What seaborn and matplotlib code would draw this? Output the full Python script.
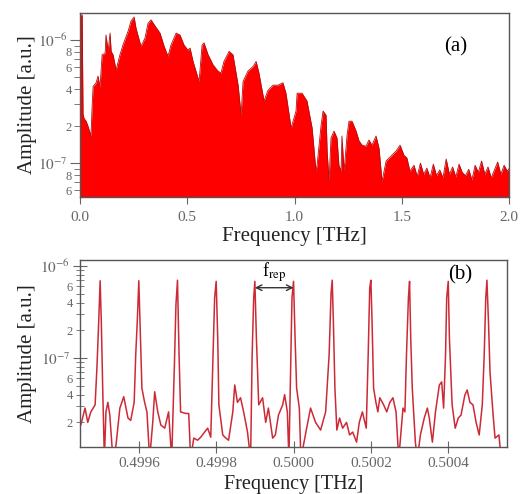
import numpy as np
import pandas as pd
import matplotlib
matplotlib.use("Agg")
import matplotlib.pyplot as plt
import seaborn as sns
from matplotlib.ticker import LogLocator, FuncFormatter, FixedLocator

# ---------------- data: panel (a) broadband spectrum (envelope)
freq_a = [0.000, 0.010, 0.014, 0.019, 0.028, 0.037, 0.051, 0.056, 0.061, 0.075,
          0.084, 0.093, 0.103, 0.117, 0.121, 0.131, 0.140, 0.145, 0.154, 0.168,
          0.186, 0.200, 0.224, 0.238, 0.252, 0.261, 0.284, 0.303, 0.317, 0.331,
          0.350, 0.373, 0.392, 0.410, 0.424, 0.448, 0.466, 0.485, 0.503, 0.513,
          0.527, 0.555, 0.569, 0.578, 0.597, 0.620, 0.643, 0.657, 0.671, 0.695,
          0.713, 0.737, 0.751, 0.760, 0.783, 0.807, 0.821, 0.834, 0.858, 0.876,
          0.900, 0.923, 0.946, 0.960, 0.984, 1.007, 1.012, 1.035, 1.058, 1.082,
          1.100, 1.105, 1.124, 1.133, 1.147, 1.152, 1.161, 1.170, 1.184, 1.198,
          1.207, 1.217, 1.221, 1.231, 1.245, 1.254, 1.268, 1.287, 1.301, 1.315,
          1.333, 1.347, 1.361, 1.380, 1.394, 1.408, 1.427, 1.450, 1.473, 1.492,
          1.510, 1.524, 1.538, 1.557, 1.572, 1.587, 1.602, 1.617, 1.632, 1.647,
          1.662, 1.677, 1.692, 1.707, 1.722, 1.737, 1.752, 1.767, 1.782, 1.797,
          1.812, 1.827, 1.842, 1.857, 1.872, 1.887, 1.902, 1.917, 1.932, 1.947,
          1.962, 1.977, 1.992, 2.000]
amp_a = [1.60e-6, 1.60e-6, 2.5e-7, 2.3e-7, 2.2e-7, 2.0e-7, 1.66e-7, 2.8e-7, 4.2e-7, 4.5e-7,
         5.1e-7, 4.1e-7, 7.6e-7, 7.8e-7, 1.10e-6, 8.1e-7, 1.14e-6, 8.1e-7, 7.6e-7, 5.7e-7,
         7.6e-7, 9.1e-7, 1.18e-6, 1.43e-6, 1.54e-6, 1.25e-6, 8.9e-7, 1.04e-6, 1.37e-6, 1.46e-6,
         1.30e-6, 1.14e-6, 8.9e-7, 7.4e-7, 9.1e-7, 1.14e-6, 1.10e-6, 9.1e-7, 8.3e-7, 8.6e-7,
         6.7e-7, 4.6e-7, 9.1e-7, 9.5e-7, 7.6e-7, 6.3e-7, 5.6e-7, 5.4e-7, 6.7e-7, 8.1e-7,
         7.6e-7, 4.3e-7, 2.45e-7, 4.6e-7, 5.6e-7, 6.1e-7, 6.7e-7, 5.4e-7, 3.2e-7, 3.9e-7,
         4.3e-7, 4.3e-7, 4.5e-7, 3.7e-7, 1.93e-7, 2.65e-7, 3.7e-7, 3.7e-7, 3.2e-7, 1.93e-7,
         8.6e-8, 9.6e-8, 2.04e-7, 2.65e-7, 2.45e-7, 1.25e-7, 7.1e-8, 1.60e-7, 1.82e-7, 1.60e-7,
         9.6e-8, 8.6e-8, 1.66e-7, 8.6e-8, 1.69e-7, 2.19e-7, 2.19e-7, 1.82e-7, 1.51e-7, 1.40e-7,
         1.37e-7, 1.54e-7, 1.40e-7, 1.66e-7, 1.32e-7, 7.1e-8, 1.04e-7, 1.14e-7, 1.25e-7, 1.40e-7,
         1.16e-7, 1.10e-7, 8.6e-8, 9.6e-8, 7.8e-8, 1.0e-7, 8.1e-8, 9.1e-8, 7.6e-8, 9.8e-8,
         7.9e-8, 8.8e-8, 7.6e-8, 1.08e-7, 8.1e-8, 9.3e-8, 7.7e-8, 9.8e-8, 8.4e-8, 7.9e-8,
         8.9e-8, 7.3e-8, 9.6e-8, 8.4e-8, 1.04e-7, 8.1e-8, 9.3e-8, 7.6e-8, 8.8e-8, 1.02e-7,
         8.1e-8, 9.6e-8, 8.6e-8, 9.0e-8]

# ---------------- data: panel (b) zoom on comb lines
freq_b = [0.499450, 0.499461, 0.499468, 0.499476, 0.499487, 0.499492, 0.499496, 0.499500,
          0.499503, 0.499507, 0.499511, 0.499515, 0.499520, 0.499525, 0.499533, 0.499541,
          0.499551, 0.499561, 0.499572, 0.499579, 0.499588, 0.499592, 0.499596, 0.499600,
          0.499603, 0.499608, 0.499615, 0.499621, 0.499628, 0.499636, 0.499641, 0.499649,
          0.499657, 0.499667, 0.499677, 0.499685, 0.499692, 0.499696, 0.499700, 0.499704,
          0.499708, 0.499721, 0.499729, 0.499734, 0.499742, 0.499752, 0.499760, 0.499768,
          0.499778, 0.499786, 0.499792, 0.499796, 0.499800, 0.499804, 0.499807, 0.499817,
          0.499825, 0.499832, 0.499843, 0.499848, 0.499855, 0.499863, 0.499871, 0.499881,
          0.499889, 0.499893, 0.499897, 0.499900, 0.499904, 0.499910, 0.499920, 0.499928,
          0.499935, 0.499946, 0.499953, 0.499961, 0.499972, 0.499977, 0.499984, 0.499988,
          0.499996, 0.500000, 0.500004, 0.500008, 0.500015, 0.500019, 0.500032, 0.500044,
          0.500057, 0.500070, 0.500083, 0.500092, 0.500097, 0.500100, 0.500103, 0.500107,
          0.500112, 0.500119, 0.500127, 0.500137, 0.500145, 0.500153, 0.500163, 0.500170,
          0.500178, 0.500188, 0.500193, 0.500197, 0.500200, 0.500203, 0.500207, 0.500213,
          0.500218, 0.500223, 0.500233, 0.500241, 0.500249, 0.500257, 0.500265, 0.500272,
          0.500283, 0.500288, 0.500292, 0.500297, 0.500300, 0.500303, 0.500307, 0.500315,
          0.500320, 0.500328, 0.500338, 0.500346, 0.500351, 0.500359, 0.500367, 0.500377,
          0.500383, 0.500388, 0.500393, 0.500396, 0.500400, 0.500403, 0.500410, 0.500418,
          0.500426, 0.500433, 0.500443, 0.500449, 0.500456, 0.500464, 0.500472, 0.500480,
          0.500488, 0.500493, 0.500497, 0.500500, 0.500504, 0.500508, 0.500516, 0.500521,
          0.500531, 0.500537]
amp_b = [1.87e-8, 2.86e-8, 2.0e-8, 2.6e-8, 3.1e-8, 8.4e-8, 2.3e-7, 6.9e-7,
         2.5e-7, 4.0e-8, 8e-9, 2.6e-8, 3.3e-8, 2.4e-8, 8e-9, 1.13e-8,
         2.86e-8, 3.8e-8, 2.23e-8, 2.1e-8, 3.3e-8, 1.08e-7, 2.5e-7, 6.9e-7,
         2.5e-7, 4.7e-8, 3.3e-8, 2.6e-8, 8e-9, 2.0e-8, 4.3e-8, 2.6e-8,
         1.87e-8, 1.73e-8, 2.6e-8, 8e-9, 8.4e-8, 3.8e-7, 7.0e-7, 1.1e-7,
         2.6e-8, 2.5e-8, 2.5e-8, 8e-9, 1.35e-8, 1.28e-8, 1.38e-8, 1.53e-8,
         1.73e-8, 1.38e-8, 1.08e-7, 4.5e-7, 6.8e-7, 1.65e-7, 3.1e-8, 1.46e-8,
         1.35e-8, 1.28e-8, 2.6e-8, 5.1e-8, 3.3e-8, 3.7e-8, 2.6e-8, 1.57e-8,
         8e-9, 1.08e-7, 4.5e-7, 6.8e-7, 1.65e-7, 3.1e-8, 3.7e-8, 2.0e-8,
         2.86e-8, 1.35e-8, 1.46e-8, 2.4e-8, 3.1e-8, 4.0e-8, 2.6e-8, 8e-9,
         4.5e-7, 6.8e-7, 1.65e-7, 4.7e-8, 2.86e-8, 8e-9, 1.57e-8, 2.86e-8,
         2.0e-8, 1.65e-8, 2.6e-8, 1.08e-7, 5.0e-7, 7.0e-7, 2.5e-7, 4.7e-8,
         1.65e-8, 2.23e-8, 1.73e-8, 2.0e-8, 1.46e-8, 1.57e-8, 1.22e-8, 2.0e-8,
         2.6e-8, 1.73e-8, 1.08e-7, 5.8e-7, 7.0e-7, 2.5e-7, 4.7e-8, 3.3e-8,
         2.6e-8, 3.7e-8, 3.1e-8, 2.6e-8, 3.3e-8, 3.7e-8, 2.6e-8, 8e-9,
         2.86e-8, 2.6e-8, 1.08e-7, 4.5e-7, 6.8e-7, 1.65e-7, 4.7e-8, 1.22e-8,
         8e-9, 1.46e-8, 2.23e-8, 2.86e-8, 2.23e-8, 1.22e-8, 2.6e-8, 5.1e-8,
         5.5e-8, 2.86e-8, 1.08e-7, 4.5e-7, 6.8e-7, 1.65e-7, 3.1e-8, 1.73e-8,
         2.23e-8, 2.4e-8, 3.96e-8, 4.5e-8, 3.3e-8, 3.1e-8, 2.0e-8, 1.46e-8,
         3.1e-8, 1.08e-7, 4.5e-7, 7.0e-7, 2.5e-7, 7.0e-8, 2.4e-8, 1.35e-8,
         1.46e-8, 8e-9]

xticks_a = [0.0, 0.5, 1.0, 1.5, 2.0]
xticks_b = [0.4996, 0.4998, 0.5000, 0.5002, 0.5004]
frep_span = [0.4999, 0.5000]

df_a = pd.DataFrame({"f": freq_a, "A": amp_a})
df_b = pd.DataFrame({"f": freq_b, "A": amp_b})

# ---------------- style
sns.set_style("ticks")
plt.rcParams["font.family"] = ["Liberation Serif", "DejaVu Serif"]
plt.rcParams["mathtext.fontset"] = "stix"

fig = plt.figure(figsize=(5.21, 4.94), dpi=100)
ax_a = fig.add_axes([0.1536, 0.6012, 0.8234, 0.3725])
ax_b = fig.add_axes([0.1536, 0.0951, 0.8196, 0.3786])

spine_col = "#555555"
tick_col = "#666666"


def make_fmt(labeled):
    def fmt(v, pos):
        if v <= 0:
            return ""
        e = int(np.floor(np.log10(v) + 1e-9))
        m = int(round(v / 10 ** e))
        if m == 1:
            return r"$10^{%d}$" % e
        if m in labeled:
            return str(m)
        return ""
    return fmt


# ---------------- panel (a)
ax_a.set_yscale("log")
ax_a.fill_between(df_a["f"], 1e-9, df_a["A"], color="#ff0000", linewidth=0, zorder=1)
sns.lineplot(data=df_a, x="f", y="A", ax=ax_a, color="#b01010", linewidth=0.6,
             estimator=None, sort=False, zorder=2)
ax_a.set_xlim(0, 2.0)
ax_a.set_ylim(5.3e-8, 1.66e-6)
ax_a.xaxis.set_major_locator(FixedLocator(xticks_a))
ax_a.xaxis.set_major_formatter(FuncFormatter(lambda v, p: f"{v:.1f}"))
ax_a.yaxis.set_major_locator(LogLocator(base=10))
ax_a.yaxis.set_minor_locator(LogLocator(base=10, subs=list(range(2, 10))))
fa = FuncFormatter(make_fmt({2, 4, 6, 8}))
ax_a.yaxis.set_major_formatter(fa)
ax_a.yaxis.set_minor_formatter(fa)
ax_a.tick_params(axis="both", which="both", direction="out", colors=tick_col)
ax_a.tick_params(axis="x", which="major", length=5, labelsize=11, pad=5)
ax_a.tick_params(axis="y", which="major", length=7, labelsize=11, pad=2)
ax_a.tick_params(axis="y", which="minor", length=4, labelsize=9, pad=2)
ax_a.text(0.876, 0.815, "(a)", transform=ax_a.transAxes, fontsize=15,
          ha="center", va="center", color="black")

# ---------------- panel (b)
ax_b.set_yscale("log")
sns.lineplot(data=df_b, x="f", y="A", ax=ax_b, color="#cc2a36", linewidth=1.1,
             estimator=None, sort=False)
ax_b.set_xlim(0.499448, 0.500552)
ax_b.set_ylim(1.08e-8, 1.16e-6)
ax_b.xaxis.set_major_locator(FixedLocator(xticks_b))
ax_b.xaxis.set_major_formatter(FuncFormatter(lambda v, p: f"{v:.4f}"))
ax_b.yaxis.set_major_locator(LogLocator(base=10))
ax_b.yaxis.set_minor_locator(LogLocator(base=10, subs=list(range(2, 10))))
fb = FuncFormatter(make_fmt({2, 4, 6}))
ax_b.yaxis.set_major_formatter(fb)
ax_b.yaxis.set_minor_formatter(fb)
ax_b.tick_params(axis="both", which="both", direction="inout", colors=tick_col)
ax_b.tick_params(axis="x", which="major", length=8, labelsize=11, pad=3)
ax_b.tick_params(axis="y", which="major", length=10, labelsize=11, pad=2)
ax_b.tick_params(axis="y", which="minor", length=6, labelsize=9, pad=2)
ax_b.text(0.89, 0.92, "(b)", transform=ax_b.transAxes, fontsize=15,
          ha="center", va="center", color="black")
ax_b.annotate("", xy=(frep_span[0], 5.8e-7), xytext=(frep_span[1], 5.8e-7),
              arrowprops=dict(arrowstyle="<->", color="#333333", lw=1.0,
                              shrinkA=0, shrinkB=0))
ax_b.text(np.mean(frep_span), 6.3e-7, r"f$_{\rm rep}$", fontsize=13,
          ha="center", va="bottom", color="black")

for ax in (ax_a, ax_b):
    for s in ax.spines.values():
        s.set_visible(True)
        s.set_color(spine_col)
        s.set_linewidth(1.0)
    ax.set_ylabel("Amplitude [a.u.]", fontsize=15, color="#222222")
    ax.yaxis.set_label_coords(-0.10, 0.5)

ax_a.set_xlabel("Frequency [THz]", fontsize=15, color="#222222")
ax_b.set_xlabel("Frequency [THz]", fontsize=14.5, color="#222222")
ax_a.xaxis.set_label_coords(0.5, -0.165)
ax_b.xaxis.set_label_coords(0.5, -0.148)

fig.savefig("out.png", dpi=100)
